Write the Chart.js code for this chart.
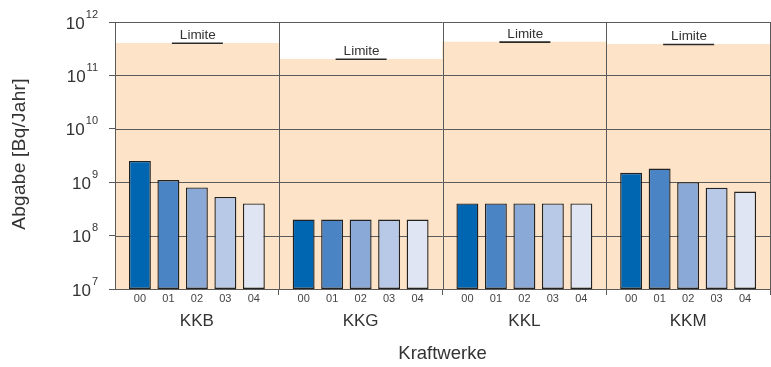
<!DOCTYPE html>
<html>
<head>
<meta charset="utf-8">
<script src="https://cdn.jsdelivr.net/npm/chart.js@4/dist/chart.umd.min.js"></script>
<style>
  html, body { margin: 0; padding: 0; background: #fff; }
  #wrap { width: 771px; height: 367px; }
</style>
</head>
<body>
<div id="wrap"><canvas id="c" width="771" height="367"></canvas></div>
<script>
// Annual release per power plant, years 2000-2004 (Bq/Jahr)
const plants = ['KKB', 'KKG', 'KKL', 'KKM'];
const years = ['00', '01', '02', '03', '04'];
const v00 = [2.5e9, 2.0e8, 4.0e8, 1.5e9];
const v01 = [1.1e9, 2.0e8, 4.0e8, 1.8e9];
const v02 = [8.0e8, 2.0e8, 4.0e8, 1.0e9];
const v03 = [5.3e8, 2.0e8, 4.0e8, 7.9e8];
const v04 = [4.0e8, 2.0e8, 4.0e8, 6.7e8];
// Authorised annual limit per plant
const limits = [4.0e11, 2.0e11, 4.2e11, 3.8e11];
const decadeTicks = [1e7, 1e8, 1e9, 1e10, 1e11, 1e12];
const limitText = 'Limite';
const yTitle = 'Abgabe [Bq/Jahr]';
const xTitle = 'Kraftwerke';

const series = [v00, v01, v02, v03, v04];
const yearColors = ['#0066b1', '#4b84c4', '#8aa9d7', '#b8c9e8', '#dfe5f3'];
const FONT = "'Liberation Sans', Arial, sans-serif";
const TEXT = '#333333';
const LINE = '#5a5a5a';

const deco = {
  id: 'deco',
  // grid lines sit on top of the limit band but below the yearly bars
  afterDatasetDraw(chart, args) {
    if (args.index !== 0) return;
    const { ctx, chartArea: a, scales: { x, y } } = chart;
    ctx.save();
    ctx.strokeStyle = LINE;
    ctx.lineWidth = 1;
    ctx.beginPath();
    decadeTicks.forEach(v => {
      const py = Math.round(y.getPixelForValue(v)) + 0.5;
      ctx.moveTo(a.left, py);
      ctx.lineTo(a.right, py);
    });
    const w = x.getPixelForValue(1) - x.getPixelForValue(0);
    for (let i = 0; i <= plants.length; i++) {
      const px = Math.round(x.getPixelForValue(i) - w / 2) + 0.5;
      ctx.moveTo(px, a.top);
      ctx.lineTo(px, a.bottom);
    }
    ctx.stroke();
    ctx.restore();
  },
  afterDatasetsDraw(chart) {
    const { ctx, chartArea: a, scales: { x, y } } = chart;
    ctx.save();
    // limit markers
    limits.forEach((lim, i) => {
      const cx = x.getPixelForValue(i);
      const py = y.getPixelForValue(lim);
      ctx.strokeStyle = '#2a2a2a';
      ctx.lineWidth = 1.6;
      ctx.beginPath();
      ctx.moveTo(cx - 25, py);
      ctx.lineTo(cx + 26, py);
      ctx.stroke();
      ctx.fillStyle = TEXT;
      ctx.font = '13.5px ' + FONT;
      ctx.textAlign = 'center';
      ctx.textBaseline = 'alphabetic';
      ctx.fillText(limitText, cx + 1, py - 4.5);
    });
    // year labels under each bar
    ctx.font = '11px ' + FONT;
    ctx.fillStyle = '#444';
    ctx.textAlign = 'center';
    ctx.textBaseline = 'middle';
    for (let k = 1; k <= years.length; k++) {
      const meta = chart.getDatasetMeta(k);
      meta.data.forEach(bar => ctx.fillText(years[k - 1], bar.x, a.bottom + 10));
    }
    // y tick labels as powers of ten
    decadeTicks.forEach(v => {
      const py = y.getPixelForValue(v);
      const exp = String(Math.round(Math.log10(v)));
      ctx.textBaseline = 'alphabetic';
      ctx.textAlign = 'left';
      ctx.font = '11px ' + FONT;
      const ew = ctx.measureText(exp).width;
      ctx.font = '17px ' + FONT;
      const bw = ctx.measureText('10').width;
      const right = a.left - 17;
      const x0 = right - ew - 1 - bw;
      ctx.fillStyle = TEXT;
      ctx.fillText('10', x0, py + 6.5);
      ctx.font = '11px ' + FONT;
      ctx.fillText(exp, x0 + bw + 1, py - 4.5);
    });
    // axis titles
    ctx.fillStyle = TEXT;
    ctx.textAlign = 'center';
    ctx.textBaseline = 'middle';
    ctx.font = '18.5px ' + FONT;
    ctx.fillText(xTitle, (a.left + a.right) / 2, 354);
    ctx.save();
    ctx.translate(20, 154);
    ctx.rotate(-Math.PI / 2);
    ctx.font = '19px ' + FONT;
    ctx.letterSpacing = '0.3px';
    ctx.fillText(yTitle, 0, 0);
    ctx.restore();
    ctx.restore();
  }
};

new Chart(document.getElementById('c'), {
  type: 'bar',
  data: {
    labels: plants,
    datasets: [
      {
        label: limitText,
        data: limits,
        backgroundColor: '#fde4c8',
        borderWidth: 0,
        grouped: false,
        categoryPercentage: 1,
        barPercentage: 1,
        order: 10
      },
      ...series.map((d, i) => ({
        label: years[i],
        data: d,
        backgroundColor: yearColors[i],
        borderColor: '#222222',
        borderWidth: 1.4,
        borderSkipped: false,
        categoryPercentage: 0.87,
        barPercentage: 0.77,
        order: 0
      }))
    ]
  },
  options: {
    responsive: false,
    devicePixelRatio: 1,
    animation: false,
    layout: { padding: { top: 22, right: 1, left: 0, bottom: 0 } },
    plugins: { legend: { display: false }, tooltip: { enabled: false } },
    scales: {
      x: {
        grid: {
          offset: true,
          drawOnChartArea: false,
          tickLength: 6,
          color: c => (c.index === 0 ? 'rgba(0,0,0,0)' : LINE)
        },
        border: { color: LINE },
        ticks: { font: { family: FONT, size: 17 }, color: TEXT, padding: 16 },
        afterFit: s => { s.height = 78; }
      },
      y: {
        type: 'logarithmic',
        min: 1e7,
        max: 1e12,
        afterBuildTicks: s => { s.ticks = decadeTicks.map(v => ({ value: v })); },
        ticks: { display: false },
        grid: { drawOnChartArea: false, tickLength: 6, color: LINE },
        border: { color: LINE },
        afterFit: s => { s.width = 115; }
      }
    }
  },
  plugins: [deco]
});
</script>
</body>
</html>
